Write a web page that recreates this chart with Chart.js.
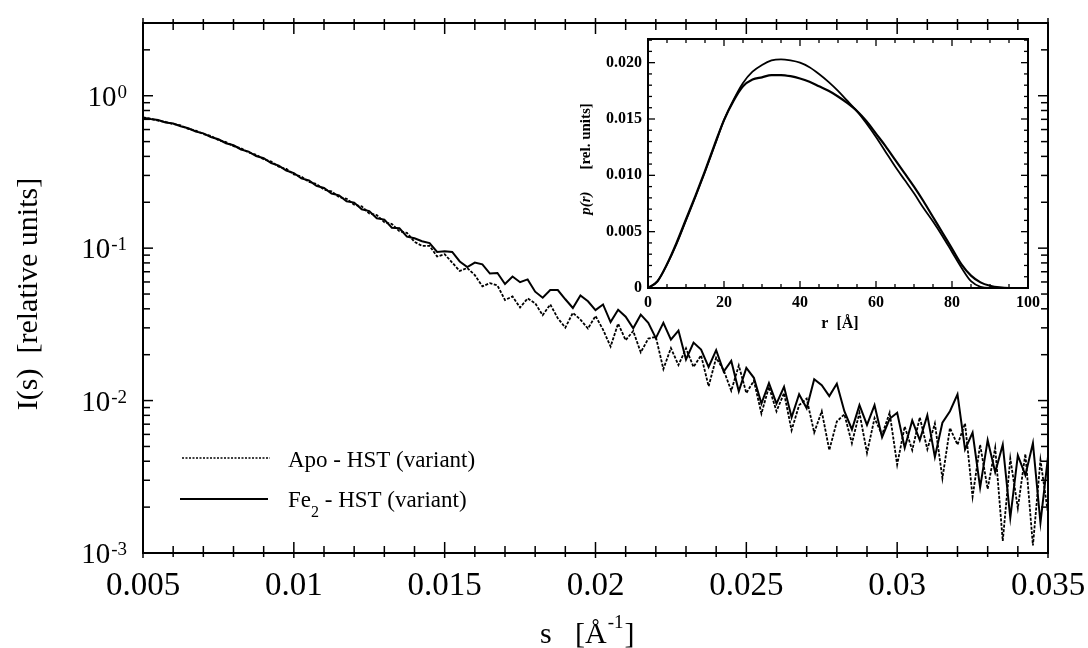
<!DOCTYPE html>
<html><head><meta charset="utf-8">
<script src="https://cdn.jsdelivr.net/npm/chart.js@4/dist/chart.umd.min.js"></script>
<style>
html,body{margin:0;padding:0;background:#fff;}
#wrap{position:relative;width:1088px;height:648px;background:#fff;}
#main{position:absolute;left:0;top:0;}
#inset{position:absolute;left:560px;top:20px;}
</style>
</head><body>
<div id="wrap"><canvas id="main" width="1088" height="648"></canvas><canvas id="inset" width="490" height="320"></canvas></div>
<script>
// ---------- main chart data: s [1/Å] and I(s) [relative units] ----------
const sValues = [
0.005,0.00525,0.0055,0.00575,0.006,0.00625,0.0065,0.00675,0.007,0.00725,
0.0075,0.00775,0.008,0.00825,0.0085,0.00875,0.009,0.00925,0.0095,0.00975,
0.01,0.01025,0.0105,0.01075,0.011,0.01125,0.0115,0.01175,0.012,0.01225,
0.0125,0.01275,0.013,0.01325,0.0135,0.01375,0.014,0.01425,0.0145,0.01475,
0.015,0.01525,0.0155,0.01575,0.016,0.01625,0.0165,0.01675,0.017,0.01725,
0.0175,0.01775,0.018,0.01825,0.0185,0.01875,0.019,0.01925,0.0195,0.01975,
0.02,0.02025,0.0205,0.02075,0.021,0.02125,0.0215,0.02175,0.022,0.02225,
0.0225,0.02275,0.023,0.02325,0.0235,0.02375,0.024,0.02425,0.0245,0.02475,
0.025,0.02525,0.0255,0.02575,0.026,0.02625,0.0265,0.02675,0.027,0.02725,
0.0275,0.02775,0.028,0.02825,0.0285,0.02875,0.029,0.02925,0.0295,0.02975,
0.03,0.03025,0.0305,0.03075,0.031,0.03125,0.0315,0.03175,0.032,0.03225,
0.0325,0.03275,0.033,0.03325,0.0335,0.03375,0.034,0.03425,0.0345,0.03475,
0.035];

const apoValues = [
0.720,0.707,0.686,0.674,0.652,0.638,0.606,0.590,0.561,0.544,
0.512,0.496,0.467,0.452,0.424,0.410,0.383,0.370,0.342,0.331,
0.305,0.295,0.272,0.264,0.242,0.236,0.216,0.211,0.193,0.188,
0.169,0.165,0.148,0.144,0.129,0.126,0.110,
0.1035,0.1035,0.0881,0.0912,0.0804,0.0708,0.0741,0.0665,0.0562,0.0589,
0.0569,0.0457,0.0482,0.0408,0.0468,0.0435,0.0363,0.0427,0.0347,0.0301,
0.0376,0.0340,0.0297,0.0359,0.0292,0.0226,0.0320,0.0249,0.0286,0.0207,
0.0255,0.0262,0.0161,0.0221,0.0171,0.0220,0.0166,0.0198,0.0124,0.0191,
0.0158,0.0116,0.0170,0.0112,0.0135,0.00822,0.0123,0.00851,0.0112,0.00638,
0.00933,0.0103,0.00617,0.00851,0.00473,0.00729,0.00813,0.00525,0.00832,0.00453,
0.00767,0.00596,0.00832,0.0038,0.00676,0.00473,0.00776,0.00479,0.00708,0.00309,
0.00661,0.00513,0.00708,0.00234,0.00513,0.00263,0.0049,0.0012,0.00417,0.00197,
0.00447,0.00112,0.00407,0.00182];

const fe2Values = [
0.718,0.703,0.692,0.668,0.657,0.630,0.612,0.583,0.566,0.536,
0.518,0.488,0.473,0.444,0.430,0.402,0.389,0.362,0.348,0.323,
0.311,0.287,0.278,0.256,0.248,0.228,0.222,0.203,0.199,0.180,
0.175,0.157,0.154,0.136,0.135,0.119,0.116,
0.111,0.108,0.0944,0.0955,0.0944,0.0818,0.0752,0.0804,0.0783,0.0681,
0.0687,0.0582,0.0652,0.0598,0.0624,0.0518,0.0473,0.0531,0.0531,0.0462,
0.0405,0.0489,0.0448,0.0392,0.0427,0.0327,0.0394,0.0355,0.0298,0.0366,
0.0324,0.0257,0.0324,0.0251,0.0288,0.0186,0.0240,0.0216,0.0166,0.0214,
0.0155,0.0182,0.0115,0.0164,0.0141,0.00955,0.0130,0.00955,0.0123,0.00776,
0.0110,0.00891,0.0138,0.0126,0.0107,0.0129,0.00851,0.00646,0.00933,0.00692,
0.00933,0.00575,0.00759,0.00832,0.0049,0.00741,0.0055,0.00802,0.00427,0.00716,
0.00851,0.0110,0.00479,0.00617,0.00269,0.0055,0.00339,0.00513,0.0017,0.00437,
0.00324,0.00525,0.00158,0.00427];

const yTickExponents = [0,-1,-2,-3];
const seriesNames = ['Apo - HST (variant)', 'Fe', '2', ' - HST (variant)'];

// ---------- inset data: r [Å] and p(r) [rel. units] ----------
const rValues = [0,2.5,5,7.5,10,12.5,15,17.5,20,22.5,25,27.5,30,32.5,35,37.5,40,42.5,45,47.5,50,
52.5,55,57.5,60,62.5,65,67.5,70,72.5,75,77.5,80,82.5,85,87.5,90,92.5,95,97.5,100];
const prA = [0,0.0006,0.0021,0.0039,0.0060,0.0081,0.0103,0.0126,0.0149,0.0167,0.0182,
0.0192,0.0198,0.0202,0.0203,0.0202,0.0200,0.0196,0.0190,0.0183,0.0175,
0.0166,0.0157,0.0146,0.0134,0.0121,0.0108,0.0096,0.0084,0.0071,0.0059,
0.0046,0.0032,0.0018,0.0006,0.0001,0,0,0,0,0];
const prB = [0,0.0006,0.0021,0.0040,0.0061,0.0082,0.0104,0.0127,0.0149,0.0166,0.0179,
0.0185,0.0187,0.0189,0.0189,0.0188,0.0186,0.0183,0.0179,0.0175,0.0170,
0.0164,0.0157,0.0148,0.0137,0.0126,0.0114,0.0102,0.0090,0.0077,0.0063,
0.0049,0.0035,0.0021,0.0011,0.0005,0.0002,0.00005,0,0,0];

const SERIF = "'Liberation Serif','Times New Roman',serif";

function seg(ctx,x1,y1,x2,y2){ctx.beginPath();ctx.moveTo(x1,y1);ctx.lineTo(x2,y2);ctx.stroke();}

const mainDecor = {
  id:'mainDecor',
  afterDraw(chart){
    const {ctx, chartArea:a, scales:{x,y}} = chart;
    ctx.save();
    ctx.strokeStyle='#000'; ctx.fillStyle='#000';
    ctx.lineWidth=2;
    ctx.strokeRect(a.left, a.top, a.right-a.left, a.bottom-a.top);
    ctx.lineWidth=1.5;
    for(let k=0;k<=30;k++){
      const px = x.getPixelForValue(x.min + k*(x.max-x.min)/30);
      const major = k%5===0;
      const inL = major?11:7, outL = major?5:4;
      seg(ctx,px,a.bottom+outL,px,a.bottom-inL);
      seg(ctx,px,a.top-outL,px,a.top+inL);
    }
    for(const e of [-3,-2,-1,0]){
      for(let m=1;m<=9;m++){
        const v=m*Math.pow(10,e); if(v>y.max) break;
        const py=y.getPixelForValue(v); const L=m===1?10:7;
        seg(ctx,a.left,py,a.left+L,py); seg(ctx,a.right-L,py,a.right,py);
      }
    }
    // y tick labels 10^n
    ctx.textBaseline='alphabetic';
    for(const e of yTickExponents){
      const py=y.getPixelForValue(Math.pow(10,e));
      const sup = String(e);
      ctx.font='19px '+SERIF; const sw=ctx.measureText(sup).width;
      ctx.textAlign='left'; ctx.fillText(sup,127-sw,py+2);
      ctx.font='29px '+SERIF; ctx.textAlign='right'; ctx.fillText('10',127-sw-1,py+10);
    }
    // y title
    ctx.save(); ctx.translate(29,294); ctx.rotate(-Math.PI/2);
    ctx.font='30px '+SERIF; ctx.textAlign='center'; ctx.textBaseline='middle';
    ctx.fillText('I(s)  [relative units]',0,0); ctx.restore();
    // x title
    ctx.textAlign='left'; ctx.textBaseline='alphabetic';
    ctx.font='30px '+SERIF; ctx.fillText('s',540,643);
    let xx=575; ctx.fillText('[Å',xx,643); xx+=ctx.measureText('[Å').width+1;
    ctx.font='19px '+SERIF; ctx.fillText('-1',xx,628); xx+=ctx.measureText('-1').width+1;
    ctx.font='30px '+SERIF; ctx.fillText(']',xx,643);
    // legend
    ctx.lineWidth=1.5; ctx.setLineDash([2,1.5]); seg(ctx,182,458,270,458);
    ctx.setLineDash([]); ctx.lineWidth=2; seg(ctx,180,499,268,499);
    ctx.font='23px '+SERIF; ctx.fillText(seriesNames[0],288,467);
    let lx=288; ctx.fillText(seriesNames[1],lx,507); lx+=ctx.measureText(seriesNames[1]).width;
    ctx.font='16px '+SERIF; ctx.fillText(seriesNames[2],lx,517); lx+=ctx.measureText(seriesNames[2]).width;
    ctx.font='23px '+SERIF; ctx.fillText(seriesNames[3],lx,507);
    ctx.restore();
  }
};

new Chart(document.getElementById('main'),{
  type:'line',
  data:{datasets:[
    {label:seriesNames[0], data:sValues.map((s,i)=>({x:s,y:apoValues[i]})), borderColor:'#000', borderWidth:1.8, borderDash:[3,1.5], pointRadius:0, tension:0, fill:false},
    {label:'Fe2 - HST (variant)', data:sValues.map((s,i)=>({x:s,y:fe2Values[i]})), borderColor:'#000', borderWidth:2, pointRadius:0, tension:0, fill:false}
  ]},
  options:{
    responsive:false, animation:false, devicePixelRatio:1,
    layout:{padding:{top:23,right:40,left:0,bottom:0}},
    plugins:{legend:{display:false},tooltip:{enabled:false}},
    scales:{
      x:{type:'linear',min:0.005,max:0.035,grid:{display:false,drawTicks:false},border:{display:false},
         ticks:{stepSize:0.005,includeBounds:false,autoSkip:false,maxRotation:0,padding:14,color:'#000',
                font:{family:SERIF,size:33},callback:v=>String(+Number(v).toFixed(3))},
         afterFit(s){s.height=95; s.paddingRight=0; s.paddingLeft=0;}},
      y:{type:'logarithmic',min:0.001,max:3,grid:{display:false,drawTicks:false},border:{display:false},
         ticks:{display:false},afterFit(s){s.width=143; s.paddingTop=0; s.paddingBottom=0;}}
    }
  },
  plugins:[mainDecor]
});

const insetDecor = {
  id:'insetDecor',
  afterDraw(chart){
    const {ctx, chartArea:a, scales:{x,y}} = chart;
    ctx.save(); ctx.strokeStyle='#000'; ctx.fillStyle='#000';
    ctx.lineWidth=2; ctx.strokeRect(a.left,a.top,a.right-a.left,a.bottom-a.top);
    ctx.lineWidth=1.3;
    for(let k=0;k<=20;k++){
      const px=x.getPixelForValue(k*5); const L=(k%4===0)?7:4;
      seg(ctx,px,a.bottom,px,a.bottom-L); seg(ctx,px,a.top,px,a.top+L);
    }
    for(let k=0;k<=22;k++){
      const py=y.getPixelForValue(k*0.001); const L=(k%5===0)?7:4;
      seg(ctx,a.left,py,a.left+L,py); seg(ctx,a.right-L,py,a.right,py);
    }
    ctx.font='bold 16px '+SERIF; ctx.textAlign='center'; ctx.textBaseline='middle';
    ctx.fillText('r  [Å]',280,304);
    ctx.save(); ctx.translate(26,139); ctx.rotate(-Math.PI/2);
    ctx.font='bold italic 15px '+SERIF; const w1=ctx.measureText('p(r)').width;
    ctx.font='bold 15px '+SERIF; const gap=22; const w2=ctx.measureText('[rel. units]').width;
    const start=-(w1+gap+w2)/2;
    ctx.textAlign='left';
    ctx.font='bold italic 15px '+SERIF; ctx.fillText('p(r)',start,0);
    ctx.font='bold 15px '+SERIF; ctx.fillText('[rel. units]',start+w1+gap,0);
    ctx.restore();
    ctx.restore();
  }
};

new Chart(document.getElementById('inset'),{
  type:'line',
  data:{datasets:[
    {label:'p(r) A', data:rValues.map((r,i)=>({x:r,y:prA[i]})), borderColor:'#000', borderWidth:1.8, pointRadius:0, cubicInterpolationMode:'monotone', fill:false},
    {label:'p(r) B', data:rValues.map((r,i)=>({x:r,y:prB[i]})), borderColor:'#000', borderWidth:2.2, pointRadius:0, cubicInterpolationMode:'monotone', fill:false}
  ]},
  options:{
    responsive:false, animation:false, devicePixelRatio:1,
    layout:{padding:{top:19,right:22,left:0,bottom:0}},
    plugins:{legend:{display:false},tooltip:{enabled:false}},
    scales:{
      x:{type:'linear',min:0,max:100,grid:{display:false,drawTicks:false},border:{display:false},
         ticks:{stepSize:20,includeBounds:false,autoSkip:false,maxRotation:0,padding:5,color:'#000',
                font:{family:SERIF,size:16,weight:'bold'}},
         afterFit(s){s.height=52; s.paddingRight=0; s.paddingLeft=0;}},
      y:{type:'linear',min:0,max:0.0221,grid:{display:false,drawTicks:false},border:{display:false},
         ticks:{stepSize:0.005,includeBounds:false,autoSkip:false,padding:6,color:'#000',
                font:{family:SERIF,size:16,weight:'bold'},callback:v=>(Math.abs(v)<1e-9?'0':Number(v).toFixed(3))},
         afterFit(s){s.width=88; s.paddingTop=0; s.paddingBottom=0;}}
    }
  },
  plugins:[insetDecor]
});
</script>
</body></html>
